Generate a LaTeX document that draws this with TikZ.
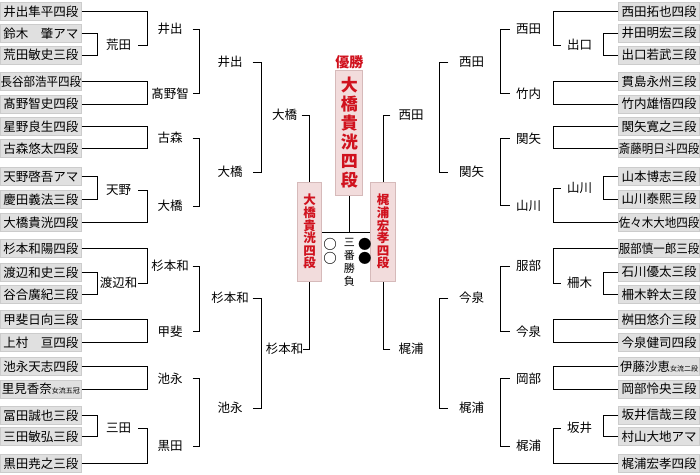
\documentclass[tikz,border=0pt]{standalone}
\usepackage{fontspec}
\setmainfont{Noto Sans CJK JP}

\definecolor{boxgray}{RGB}{224,224,224}
\definecolor{boxedge}{RGB}{204,204,204}
\definecolor{winpink}{RGB}{242,220,220}
\definecolor{pinkedge}{RGB}{214,186,186}
\definecolor{winred}{RGB}{208,18,30}

\newcommand{\narrowname}[1]{\scalebox{0.92}[1]{#1}}
\newcommand{\smalltitle}[1]{{\fontsize{7}{7}\selectfont #1}}

\tikzset{
  player/.style={fill=boxgray, draw=boxedge, line width=0.6pt, minimum width=81pt, minimum height=18pt, inner sep=0pt, font=\fontsize{12.5}{14}\selectfont},
  lvA/.style={inner sep=0pt, minimum width=39pt, font=\fontsize{12.5}{14}\selectfont},
  lvB/.style={inner sep=0pt, minimum width=45pt, font=\fontsize{12.5}{14}\selectfont},
  lvC/.style={inner sep=0pt, minimum width=45pt, font=\fontsize{12.5}{14}\selectfont},
  lvD/.style={inner sep=0pt, minimum width=34pt, font=\fontsize{12.5}{14}\selectfont},
  rvA/.style={inner sep=0pt, minimum width=36pt, font=\fontsize{12.5}{14}\selectfont},
  rvB/.style={inner sep=0pt, minimum width=37pt, font=\fontsize{12.5}{14}\selectfont},
  rvC/.style={inner sep=0pt, minimum width=46pt, font=\fontsize{12.5}{14}\selectfont},
  rvD/.style={inner sep=0pt, minimum width=41pt, font=\fontsize{12.5}{14}\selectfont},
  semibox/.style={fill=winpink, draw=pinkedge, line width=1pt, text=winred, inner sep=0pt, align=center, font=\fontsize{12.5}{12.6}\selectfont\bfseries},
  tree/.style={line width=1pt, black},
}

\begin{document}
\begin{tikzpicture}[x=1pt,y=1pt,yscale=-1,xscale=1]
\useasboundingbox (0,0) rectangle (700,474);

%Players: left half
\node[player, anchor=west] (lp1) at (0,11.7) {井出隼平四段};
\node[player, anchor=west] (lp2) at (0,33.3) {鈴木　肇アマ};
\node[player, anchor=west] (lp3) at (0,55) {荒田敏史三段};
\node[player, anchor=west] (lp4) at (0,81.7) {\narrowname{長谷部浩平四段}};
\node[player, anchor=west] (lp5) at (0,104) {髙野智史四段};
\node[player, anchor=west] (lp6) at (0,126.7) {星野良生四段};
\node[player, anchor=west] (lp7) at (0,148.3) {古森悠太四段};
\node[player, anchor=west] (lp8) at (0,176.7) {天野啓吾アマ};
\node[player, anchor=west] (lp9) at (0,199.3) {慶田義法三段};
\node[player, anchor=west] (lp10) at (0,222.7) {大橋貴洸四段};
\node[player, anchor=west] (lp11) at (0,248.3) {杉本和陽四段};
\node[player, anchor=west] (lp12) at (0,272.3) {渡辺和史三段};
\node[player, anchor=west] (lp13) at (0,294.3) {谷合廣紀三段};
\node[player, anchor=west] (lp14) at (0,319.3) {甲斐日向三段};
\node[player, anchor=west] (lp15) at (0,342.3) {上村　亘四段};
\node[player, anchor=west] (lp16) at (0,366.7) {池永天志四段};
\node[player, anchor=west] (lp17) at (0,389) {里見香奈\smalltitle{女流五冠}};
\node[player, anchor=west] (lp18) at (0,415.3) {冨田誠也三段};
\node[player, anchor=west] (lp19) at (0,436.7) {三田敏弘三段};
\node[player, anchor=west] (lp20) at (0,463.3) {黒田尭之三段};

%Players: right half
\node[player, anchor=east] (rp1) at (700,11.7) {西田拓也四段};
\node[player, anchor=east] (rp2) at (700,33.3) {井田明宏三段};
\node[player, anchor=east] (rp3) at (700,55) {出口若武三段};
\node[player, anchor=east] (rp4) at (700,81.7) {貫島永州三段};
\node[player, anchor=east] (rp5) at (700,104) {竹内雄悟四段};
\node[player, anchor=east] (rp6) at (700,126.7) {関矢寛之三段};
\node[player, anchor=east] (rp7) at (700,148.3) {\narrowname{斎藤明日斗四段}};
\node[player, anchor=east] (rp8) at (700,176.7) {山本博志三段};
\node[player, anchor=east] (rp9) at (700,199.3) {山川泰熙三段};
\node[player, anchor=east] (rp10) at (700,222.7) {\narrowname{佐々木大地四段}};
\node[player, anchor=east] (rp11) at (700,248.3) {\narrowname{服部慎一郎三段}};
\node[player, anchor=east] (rp12) at (700,272.3) {石川優太三段};
\node[player, anchor=east] (rp13) at (700,294.3) {柵木幹太三段};
\node[player, anchor=east] (rp14) at (700,319.3) {桝田悠介三段};
\node[player, anchor=east] (rp15) at (700,342.3) {今泉健司四段};
\node[player, anchor=east] (rp16) at (700,366.7) {伊藤沙恵\smalltitle{女流二段}};
\node[player, anchor=east] (rp17) at (700,389) {岡部怜央三段};
\node[player, anchor=east] (rp18) at (700,415.3) {坂井信哉三段};
\node[player, anchor=east] (rp19) at (700,436.7) {村山大地アマ};
\node[player, anchor=east] (rp20) at (700,463.3) {梶浦宏孝四段};

% Text Node: winners, left
\node[lvA] (arata1) at (118.5,45) {荒田};
\node[lvA] (amano1) at (118.5,190) {天野};
\node[lvA] (watanabe1) at (118.5,283) {渡辺和};
\node[lvA] (mita1) at (118.5,428) {三田};
\node[lvB] (ide2) at (170,29) {井出};
\node[lvB] (takano2) at (170,93.5) {髙野智};
\node[lvB] (komori2) at (170,138) {古森};
\node[lvB] (ohashi2) at (170,206) {大橋};
\node[lvB] (sugimoto2) at (170,266) {杉本和};
\node[lvB] (kai2) at (170,331.5) {甲斐};
\node[lvB] (ikenaga2) at (170,378.5) {池永};
\node[lvB] (kuroda2) at (170,446) {黒田};
\node[lvC] (ide3) at (230,62) {井出};
\node[lvC] (ohashi3) at (230,172) {大橋};
\node[lvC] (sugimoto3) at (230,298) {杉本和};
\node[lvC] (ikenaga3) at (230,408) {池永};
\node[lvD] (ohashi4) at (284.5,115) {大橋};
\node[lvD] (sugimoto4) at (284.5,349) {杉本和};

% Text Node: winners, right
\node[rvA] (deguchi1) at (579.5,45) {出口};
\node[rvA] (yamakawa1) at (579.5,188) {山川};
\node[rvA] (maseki1) at (579.5,283) {柵木};
\node[rvA] (sakai1) at (579.5,428) {坂井};
\node[rvB] (nishida2) at (528.5,29) {西田};
\node[rvB] (takeuchi2) at (528.5,93.5) {竹内};
\node[rvB] (sekiya2) at (528.5,138.5) {関矢};
\node[rvB] (yamakawa2) at (528.5,205.5) {山川};
\node[rvB] (hattori2) at (528.5,266) {服部};
\node[rvB] (imaizumi2) at (528.5,331.5) {今泉};
\node[rvB] (okabe2) at (528.5,378.5) {岡部};
\node[rvB] (kajiura2) at (528.5,446) {梶浦};
\node[rvC] (nishida3) at (471.5,62) {西田};
\node[rvC] (sekiya3) at (471.5,172) {関矢};
\node[rvC] (imaizumi3) at (471.5,298) {今泉};
\node[rvC] (kajiura3) at (471.5,408) {梶浦};
\node[rvD] (nishida4) at (411,115) {西田};
\node[rvD] (kajiura4) at (411,349) {梶浦};

%Shape: final boxes
\node[text=winred, inner sep=0pt, font=\fontsize{14}{14}\selectfont\bfseries] (yusho) at (349.3,62.5) {優勝};
\node[semibox, minimum width=26.7pt, minimum height=125.7pt, font=\fontsize{17}{19}\selectfont\bfseries] (champ) at (349.3,132.9) {大\\橋\\貴\\洸\\四\\段};
\node[semibox, minimum width=24.4pt, minimum height=98.7pt] (semiL) at (309.5,231.7) {大\\橋\\貴\\洸\\四\\段};
\node[semibox, minimum width=24.4pt, minimum height=98.7pt] (semiR) at (383,231.7) {梶\\浦\\宏\\孝\\四\\段};
\coordinate (fork) at (349.3,232.7);
\node[inner sep=0pt, align=center, font=\fontsize{13.5}{13.6}\selectfont\bfseries] (winmarks) at (330,251.3) {○\\○};
\node[inner sep=0pt, align=center, font=\fontsize{13.5}{13.6}\selectfont] (lossmarks) at (364.8,251.3) {●\\●};
\node[inner sep=0pt, align=center, font=\fontsize{11}{13}\selectfont] (bestof) at (349.3,262) {三\\番\\勝\\負};

%Lines: left bracket
\draw[tree] (lp2.east) -- ++(16,0) |- (lp3.east);
\draw[tree] (lp8.east) -- ++(16,0) |- (lp9.east);
\draw[tree] (lp12.east) -- ++(16,0) |- (lp13.east);
\draw[tree] (lp18.east) -- ++(16,0) |- (lp19.east);
\draw[tree] (lp1.east) -| ([xshift=9pt]arata1.east) -- (arata1.east);
\draw[tree] (lp4.east) -- ++(66,0) |- (lp5.east);
\draw[tree] (lp6.east) -- ++(66,0) |- (lp7.east);
\draw[tree] (lp10.east) -| ([xshift=9pt]amano1.east) -- (amano1.east);
\draw[tree] (lp11.east) -| ([xshift=9pt]watanabe1.east) -- (watanabe1.east);
\draw[tree] (lp14.east) -- ++(66,0) |- (lp15.east);
\draw[tree] (lp16.east) -- ++(66,0) |- (lp17.east);
\draw[tree] (lp20.east) -| ([xshift=9pt]mita1.east) -- (mita1.east);
\draw[tree] (ide2.east) -- ++(6.5,0) |- (takano2.east);
\draw[tree] (komori2.east) -- ++(6.5,0) |- (ohashi2.east);
\draw[tree] (sugimoto2.east) -- ++(6.5,0) |- (kai2.east);
\draw[tree] (ikenaga2.east) -- ++(6.5,0) |- (kuroda2.east);
\draw[tree] (ide3.east) -- ++(8.5,0) |- (ohashi3.east);
\draw[tree] (sugimoto3.east) -- ++(8.5,0) |- (ikenaga3.east);
\draw[tree] (ohashi4.east) -| (semiL.north);
\draw[tree] (sugimoto4.east) -| (semiL.south);

%Lines: right bracket
\draw[tree] (rp2.west) -- ++(-15,0) |- (rp3.west);
\draw[tree] (rp8.west) -- ++(-15,0) |- (rp9.west);
\draw[tree] (rp12.west) -- ++(-15,0) |- (rp13.west);
\draw[tree] (rp18.west) -- ++(-15,0) |- (rp19.west);
\draw[tree] (rp1.west) -| ([xshift=-8pt]deguchi1.west) -- (deguchi1.west);
\draw[tree] (rp4.west) -- ++(-64.5,0) |- (rp5.west);
\draw[tree] (rp6.west) -- ++(-64.5,0) |- (rp7.west);
\draw[tree] (rp10.west) -| ([xshift=-8pt]yamakawa1.west) -- (yamakawa1.west);
\draw[tree] (rp11.west) -| ([xshift=-8pt]maseki1.west) -- (maseki1.west);
\draw[tree] (rp14.west) -- ++(-64.5,0) |- (rp15.west);
\draw[tree] (rp16.west) -- ++(-64.5,0) |- (rp17.west);
\draw[tree] (rp20.west) -| ([xshift=-8pt]sakai1.west) -- (sakai1.west);
\draw[tree] (nishida2.west) -- ++(-9.3,0) |- (takeuchi2.west);
\draw[tree] (sekiya2.west) -- ++(-9.3,0) |- (yamakawa2.west);
\draw[tree] (hattori2.west) -- ++(-9.3,0) |- (imaizumi2.west);
\draw[tree] (okabe2.west) -- ++(-9.3,0) |- (kajiura2.west);
\draw[tree] (nishida3.west) -- ++(-9.2,0) |- (sekiya3.west);
\draw[tree] (imaizumi3.west) -- ++(-9.2,0) |- (kajiura3.west);
\draw[tree] (nishida4.west) -| (semiR.north);
\draw[tree] (kajiura4.west) -| (semiR.south);

%Lines: final
\draw[tree] (champ.south) -- (fork);
\draw[tree] (semiL.east |- fork) -- (semiR.west |- fork);

\end{tikzpicture}
\end{document}
